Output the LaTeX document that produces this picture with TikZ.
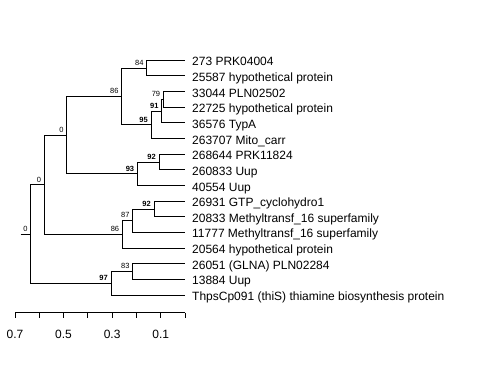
\documentclass[tikz,border=0pt]{standalone}
\usepackage{fontspec}
\setmainfont{Liberation Sans}
\tikzset{
  edge/.style={draw=black, line width=1pt},
  leaf/.style={anchor=base west, inner sep=0pt, xshift=7pt, yshift=-5.5pt,
    font=\fontsize{12}{14}\selectfont},
  support/.style={anchor=south east, inner sep=0pt, xshift=-3pt, yshift=2.5pt,
    font=\fontsize{7.5}{8}\selectfont},
  strong/.style={support, font=\fontsize{7.5}{8}\selectfont\bfseries},
  ticklabel/.style={anchor=base, inner sep=0pt, font=\fontsize{12}{14}\selectfont},
}

\begin{document}
\begin{tikzpicture}[x=1pt,y=-1pt]
  \useasboundingbox (0,0) rectangle (480,384);

  % tips
  \foreach \lab [count=\i from 0] in {273 PRK04004, 25587 hypothetical protein,
      33044 PLN02502, 22725 hypothetical protein, 36576 TypA, 263707 Mito\_carr,
      268644 PRK11824, 260833 Uup, 40554 Uup, 26931 GTP\_cyclohydro1,
      20833 Methyltransf\_16 superfamily, 11777 Methyltransf\_16 superfamily,
      20564 hypothetical protein, 26051 (GLNA) PLN02284, 13884 Uup,
      ThpsCp091 (thiS) thiamine biosynthesis protein} {
    \coordinate (t\i) at (185,{60.3+15.65*\i});
    \node[leaf] (l\i) at (t\i) {\lab};
  }

  % inner nodes
  \coordinate (stub) at (20.7,234.0);
  \coordinate (root) at (30.7,234.0);
  \coordinate (n0b) at (44.3,184.8);
  \coordinate (n0a) at (66.7,135.1);
  \coordinate (n86a) at (121.7,96.5);
  \coordinate (n84) at (146.7,68.1);
  \coordinate (n95) at (151.0,124.9);
  \coordinate (n91) at (161.7,111.2);
  \coordinate (n79) at (163.3,99.4);
  \coordinate (n93) at (137.3,173.8);
  \coordinate (n92a) at (159.0,162.0);
  \coordinate (n86b) at (122.3,234.4);
  \coordinate (n87) at (132.7,220.7);
  \coordinate (n92b) at (154.0,209.0);
  \coordinate (n97) at (111.0,283.3);
  \coordinate (n83) at (132.7,271.6);

  % branches
  \draw[edge] (stub) -- (root);
  \draw[edge] (root) |- (n0b);  \draw[edge] (root) |- (n97);
  \draw[edge] (n0b) |- (n0a);   \draw[edge] (n0b) |- (n86b);
  \draw[edge] (n0a) |- (n86a);  \draw[edge] (n0a) |- (n93);
  \draw[edge] (n86a) |- (n84);  \draw[edge] (n86a) |- (n95);
  \draw[edge] (n84) |- (t0);    \draw[edge] (n84) |- (t1);
  \draw[edge] (n95) |- (n91);   \draw[edge] (n95) |- (t5);
  \draw[edge] (n91) |- (n79);   \draw[edge] (n91) |- (t4);
  \draw[edge] (n79) |- (t2);    \draw[edge] (n79) |- (t3);
  \draw[edge] (n93) |- (n92a);  \draw[edge] (n93) |- (t8);
  \draw[edge] (n92a) |- (t6);   \draw[edge] (n92a) |- (t7);
  \draw[edge] (n86b) |- (n87);  \draw[edge] (n86b) |- (t12);
  \draw[edge] (n87) |- (n92b);  \draw[edge] (n87) |- (t11);
  \draw[edge] (n92b) |- (t9);   \draw[edge] (n92b) |- (t10);
  \draw[edge] (n97) |- (n83);   \draw[edge] (n97) |- (t15);
  \draw[edge] (n83) |- (t13);   \draw[edge] (n83) |- (t14);

  % support values
  \node[support] (s-root) at (root) {0};
  \node[support] (s-0b) at (n0b) {0};
  \node[support] (s-0a) at (n0a) {0};
  \node[support] (s-86a) at (n86a) {86};
  \node[support] (s-84) at (n84) {84};
  \node[strong] (s-95) at (n95) {95};
  \node[strong] (s-91) at (n91) {91};
  \node[support] (s-79) at (n79) {79};
  \node[strong] (s-93) at (n93) {93};
  \node[strong] (s-92a) at (n92a) {92};
  \node[support] (s-86b) at (n86b) {86};
  \node[support] (s-87) at (n87) {87};
  \node[strong] (s-92b) at (n92b) {92};
  \node[strong] (s-97) at (n97) {97};
  \node[support] (s-83) at (n83) {83};

  % scale axis
  \coordinate (ax0) at (15,312.7);
  \coordinate (ax1) at (185,312.7);
  \draw[edge] (ax0) -- (ax1);
  \foreach \k in {0,...,7} {
    \coordinate (tk\k) at ({15+170/7*\k},312.7);
    \draw[edge] (tk\k) -- ++(0,5.7);
  }
  \foreach \k/\v in {0/0.7,2/0.5,4/0.3,6/0.1}
    \node[ticklabel] (v\k) at ({15+170/7*\k},338.3) {\v};
\end{tikzpicture}
\end{document}
